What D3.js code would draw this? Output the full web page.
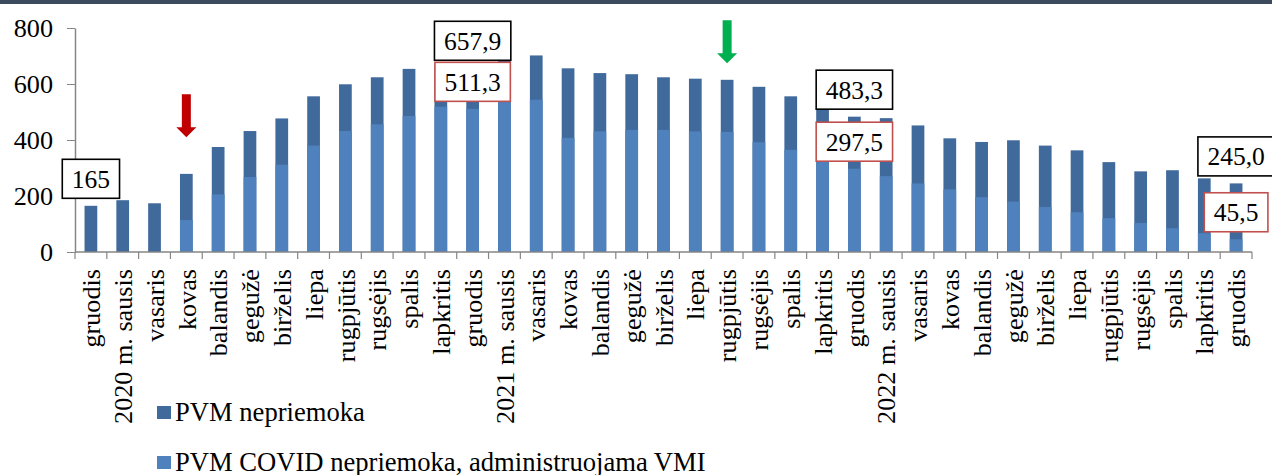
<!DOCTYPE html>
<html>
<head>
<meta charset="utf-8">
<script src="https://cdn.jsdelivr.net/npm/d3@7"></script>
<style>
	body{margin:0;background:#fff;}
	svg{display:block;font-family:"Liberation Serif","Times New Roman",serif;}
	.axis path,.axis line{stroke:#868686;}
</style>
</head>
<body>
<script>
// month labels, Dec 2019 .. Dec 2022
const months = ["gruodis","2020 m. sausis","vasaris","kovas","balandis","gegužė","birželis","liepa",
	"rugpjūtis","rugsėjis","spalis","lapkritis","gruodis","2021 m. sausis","vasaris","kovas","balandis",
	"gegužė","birželis","liepa","rugpjūtis","rugsėjis","spalis","lapkritis","gruodis","2022 m. sausis",
	"vasaris","kovas","balandis","gegužė","birželis","liepa","rugpjūtis","rugsėjis","spalis","lapkritis","gruodis"];

// PVM nepriemoka (total), mln. Eur
const nepriemoka = [165,185,174,279,375,432,477,556,599,624,654,665,657.9,690,702,656,639,635,624,619,
	615,590,556,515,483.3,478,452,406,393,399,380,363,321,288,292,263,245.0];
// PVM COVID nepriemoka, administruojama VMI
const covid = [0,0,0,114,206,268,312,380,432,456,486,519,511.3,560,544,408,431,436,436,431,
	429,392,365,335,297.5,271,245,224,196,180,161,142,121,104,85,67,45.5];

const yTicks = [0,200,400,600,800];
const seriesNames = ["PVM nepriemoka","PVM COVID nepriemoka, administruojama VMI"];
const seriesColors = ["#40699c","#4f81bd"];

// callouts: which bar, which series, text
const calloutIdx = [0,12,12,24,24,36,36];
const calloutSeries = [0,0,1,0,1,0,1];
const calloutText = ["165","657,9","511,3","483,3","297,5","245,0","45,5"];

// arrows: bar index, value at arrow tip
const arrowIdx = [3,20];
const arrowTip = [410,674];
const arrowColor = ["#c00000","#00b050"];

const serif = "Liberation Serif, Times New Roman, serif";

function drawGraph(){
	const width = 1272, height = 475;
	const x0 = 75, x1 = 1252, yBase = 252, yTop = 28;

	let svg = d3.select("body").append("svg")
		.attr("width",width)
		.attr("height",height);

	//top strip
	svg.append("rect")
		.attr("x",0).attr("y",0)
		.attr("width",width).attr("height",4)
		.attr("fill","#3b4b5d");

	let idx = d3.range(months.length);
	let xScale = d3.scaleBand()
		.domain(idx)
		.range([x0,x1])
		.paddingInner(0.6)
		.paddingOuter(0.3);
	let step = xScale.step();
	let yScale = d3.scaleLinear()
		.domain([0,800])
		.range([yBase,yTop]);

	//bars: total behind, covid in front
	[nepriemoka,covid].forEach(function(series,s){
		svg.append("g").selectAll("rect")
			.data(series)
			.enter().append("rect")
				.attr("x",function(d,i){return xScale(i);})
				.attr("width",xScale.bandwidth())
				.attr("y",function(d){return yScale(d);})
				.attr("height",function(d){return yBase-yScale(d);})
				.attr("fill",seriesColors[s]);
	});

	//y axis
	let yAxis = svg.append("g")
		.attr("class","axis")
		.attr("transform","translate("+x0+",0)")
		.call(d3.axisLeft(yScale).tickValues(yTicks).tickSize(8).tickSizeOuter(0).tickPadding(14));
	yAxis.attr("font-family",serif).attr("font-size",26.2);
	yAxis.selectAll("text").attr("fill","#000");
	yAxis.select(".domain").attr("stroke-width",1.5);

	//x axis line + ticks at band edges
	let xa = svg.append("g").attr("class","axis");
	xa.append("line")
		.attr("x1",x0).attr("x2",x1)
		.attr("y1",yBase).attr("y2",yBase)
		.attr("stroke-width",1.5);
	xa.selectAll(".tk")
		.data(d3.range(months.length+1))
		.enter().append("line")
			.attr("x1",function(d){return x0+d*step;})
			.attr("x2",function(d){return x0+d*step;})
			.attr("y1",yBase).attr("y2",yBase+7)
			.attr("stroke-width",1.2);
	xa.selectAll("text")
		.data(months)
		.enter().append("text")
			.attr("transform",function(d,i){
				return "translate("+(xScale(i)+xScale.bandwidth()/2)+",269) rotate(-90)";})
			.attr("dy","0.35em")
			.attr("text-anchor","end")
			.attr("font-size",26.2)
			.text(function(d){return d;});

	//callout boxes
	let series = [nepriemoka,covid];
	let boxStroke = ["#000","#c0504d"];
	calloutIdx.forEach(function(i,k){
		let s = calloutSeries[k];
		let cx = xScale(i)+xScale.bandwidth()/2;
		let cy = yScale(series[s][i])-27;
		let g = svg.append("g");
		let t = g.append("text")
			.attr("x",cx).attr("y",cy)
			.attr("dy","0.35em")
			.attr("text-anchor","middle")
			.attr("font-size",25.5)
			.text(calloutText[k]);
		let w = t.node().getComputedTextLength()+19;
		g.insert("rect","text")
			.attr("x",cx-w/2).attr("y",cy-19.5)
			.attr("width",w).attr("height",39)
			.attr("fill","#fff")
			.attr("stroke",boxStroke[s])
			.attr("stroke-width",1.6);
	});

	//arrows
	arrowIdx.forEach(function(i,k){
		let cx = xScale(i)+xScale.bandwidth()/2;
		let tip = yScale(arrowTip[k]);
		let path = d3.path();
		path.moveTo(cx-4.5,tip-43);
		path.lineTo(cx+4.5,tip-43);
		path.lineTo(cx+4.5,tip-10);
		path.lineTo(cx+10,tip-10);
		path.lineTo(cx,tip);
		path.lineTo(cx-10,tip-10);
		path.lineTo(cx-4.5,tip-10);
		path.closePath();
		svg.append("path")
			.attr("d",path.toString())
			.attr("fill",arrowColor[k]);
	});

	//legend
	let lg = svg.append("g").selectAll("g")
		.data(seriesNames)
		.enter().append("g")
			.attr("transform",function(d,i){return "translate(157,"+(406+i*50)+")";});
	lg.append("rect")
		.attr("width",14).attr("height",13)
		.attr("fill",function(d,i){return seriesColors[i];});
	lg.append("text")
		.attr("x",18).attr("y",14.5)
		.attr("font-size",26.6)
		.text(function(d){return d;});
}

drawGraph();
</script>
</body>
</html>
